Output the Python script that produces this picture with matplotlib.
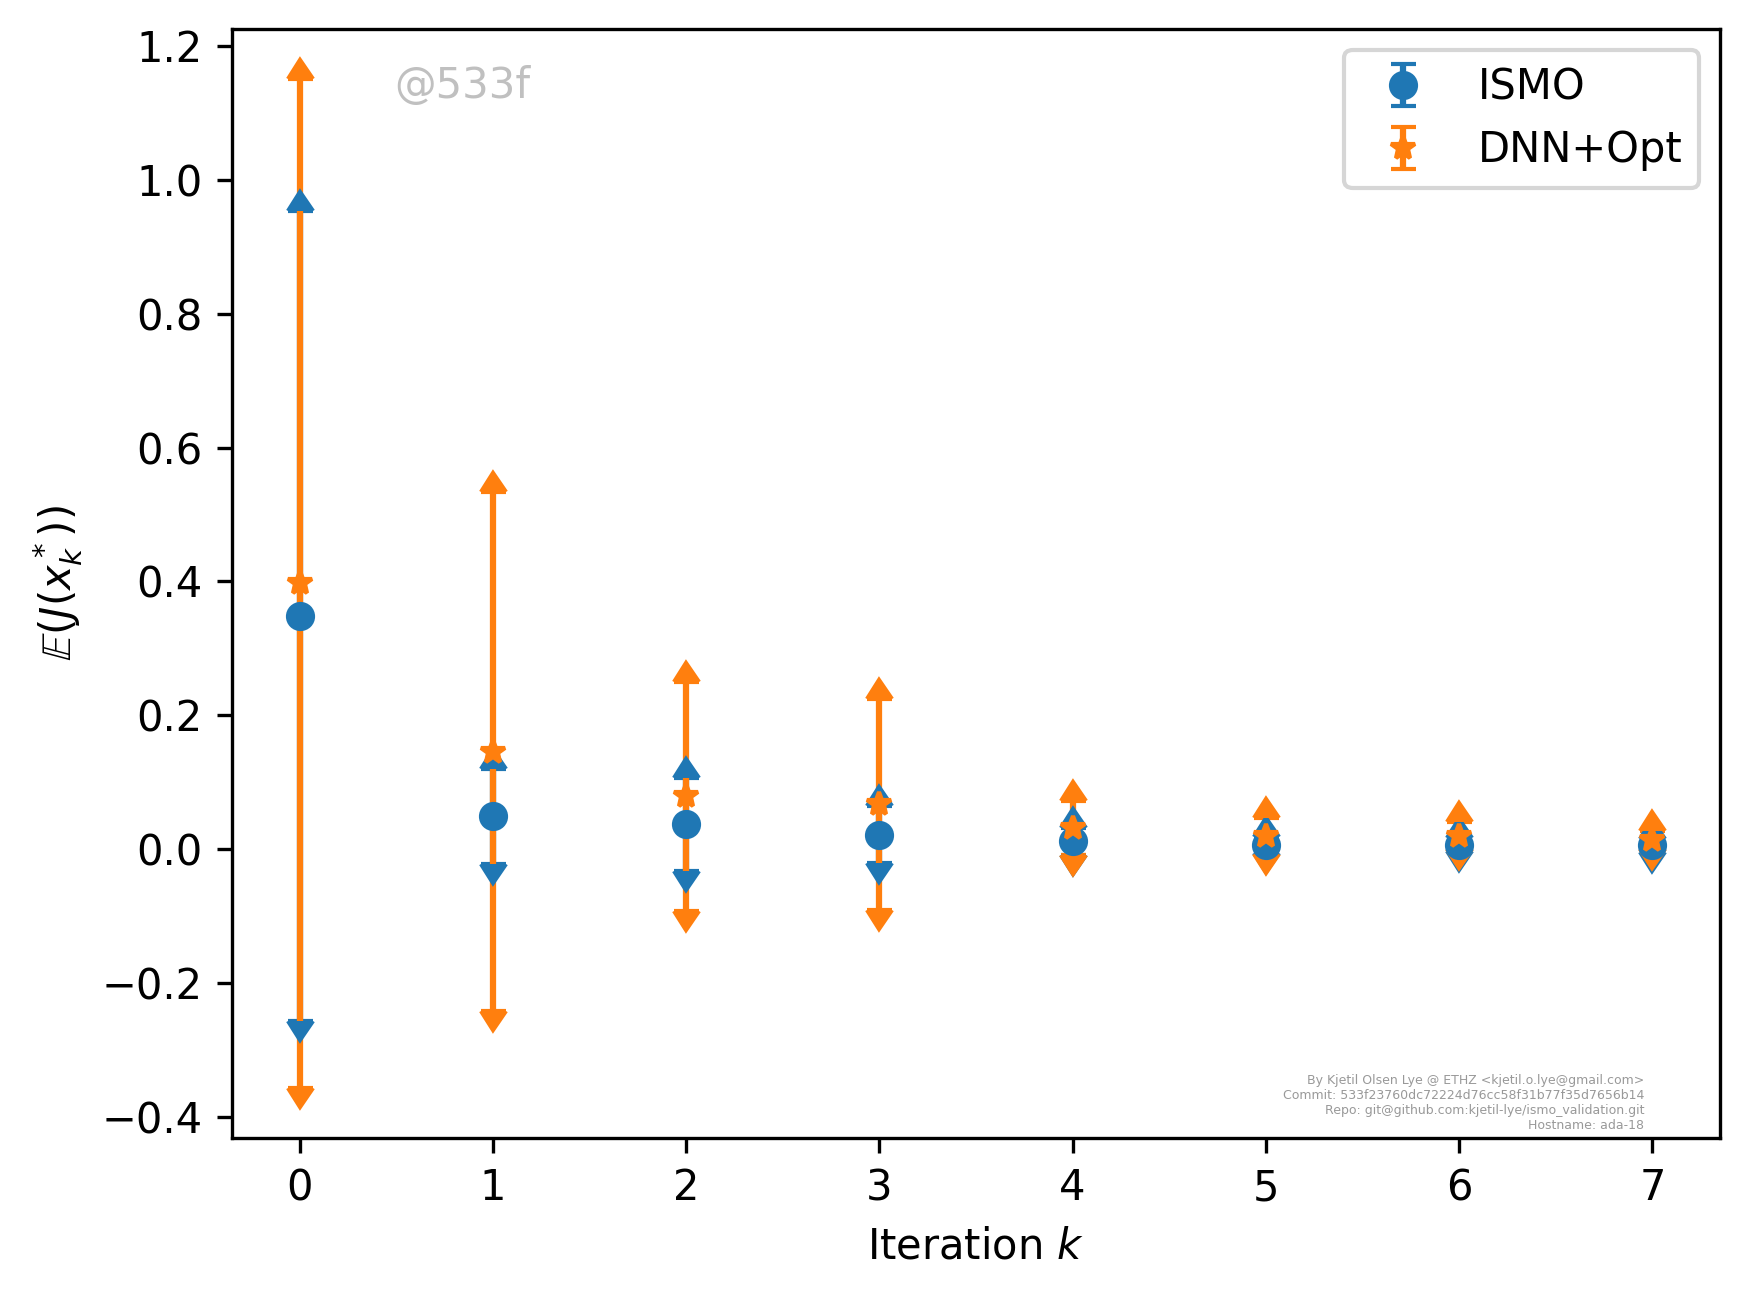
import numpy as np
import matplotlib
matplotlib.use("Agg")
import matplotlib.pyplot as plt
from matplotlib import markers

iterations = [0, 1, 2, 3, 4, 5, 6, 7]

ismo_mean = [0.349, 0.049, 0.037, 0.022, 0.012, 0.007, 0.007, 0.006]
ismo_std = [0.605, 0.071, 0.069, 0.042, 0.020, 0.012, 0.010, 0.010]

dnn_mean = [0.397, 0.146, 0.079, 0.067, 0.032, 0.020, 0.020, 0.014]
dnn_std = [0.753, 0.388, 0.171, 0.158, 0.040, 0.027, 0.020, 0.014]

info_text = ("By Kjetil Olsen Lye @ ETHZ <kjetil.o.lye@gmail.com>\n"
             "Commit: 533f23760dc72224d76cc58f31b77f35d7656b14\n"
             "Repo: git@github.com:kjetil-lye/ismo_validation.git\n"
             "Hostname: ada-18")

fig = plt.figure(figsize=(1749 / 300, 1298 / 300), dpi=300)
ax = fig.add_axes([232 / 1749, 160 / 1298, 1488 / 1749, 1109 / 1298])

series = [
    (ismo_mean, ismo_std, 'o', 'C0', 'ISMO'),
    (dnn_mean, dnn_std, '*', 'C1', 'DNN+Opt'),
]
for mean, std, fmt, color, label in series:
    mean = np.array(mean)
    std = np.array(std)
    ax.errorbar(iterations, mean, yerr=std, fmt=fmt, color=color,
                capsize=3, label=label)
    # old-style limit arrows at both ends of the bar
    ax.plot(iterations, mean + std, ls='none', marker=markers.CARETUPBASE,
            ms=6, color=color, zorder=2.05)
    ax.plot(iterations, mean - std, ls='none', marker=markers.CARETDOWNBASE,
            ms=6, color=color, zorder=2.05)

ax.set_xlabel('Iteration $k$')
ax.set_ylabel(r'$\mathbb{E}(J(x_k^*))$')
ax.legend(loc='upper right')

ax.text(0.109, 0.938, '@533f', transform=ax.transAxes, color='#c0c0c0',
        fontsize=10, va='baseline')
ax.text(0.949, 0.005, info_text, transform=ax.transAxes, color='#999999',
        fontsize=3, ha='right', va='bottom', multialignment='right')

fig.savefig('out.png', dpi=300)
